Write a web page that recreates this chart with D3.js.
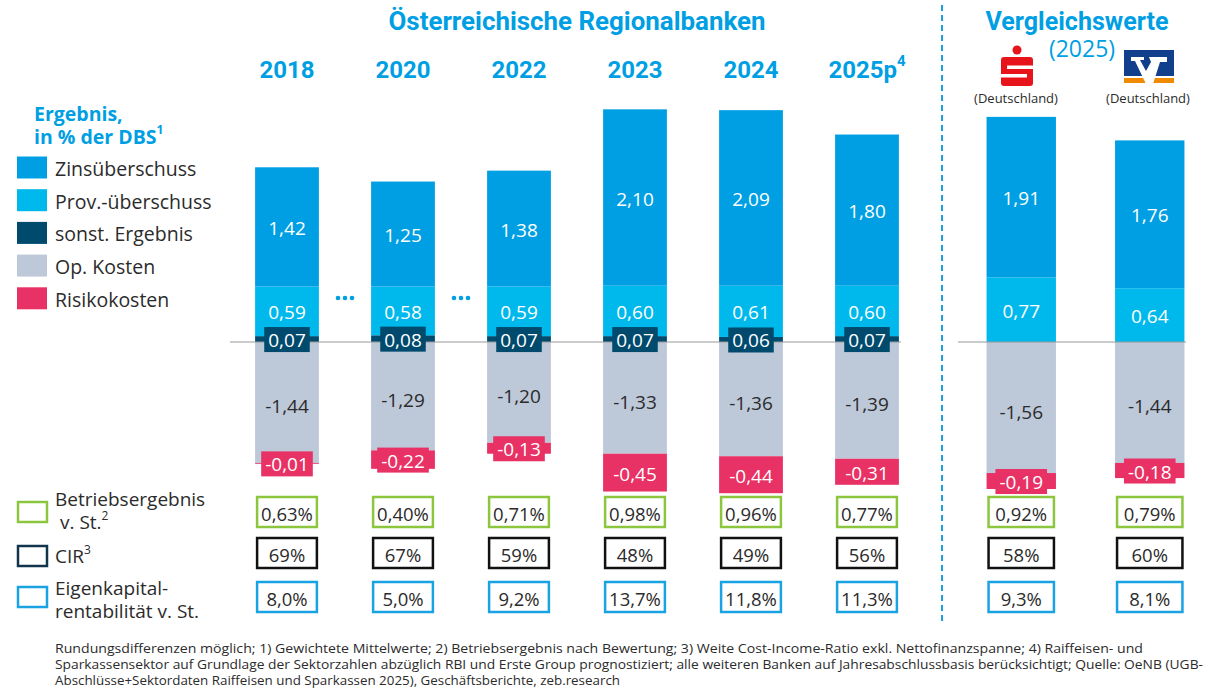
<!DOCTYPE html>
<html>
<head>
<meta charset="utf-8">
<script src="https://cdn.jsdelivr.net/npm/d3@7"></script>
<style>
  body { margin: 0; background: #fff; }
  svg { display: block; }
</style>
</head>
<body>
<script>
// Daten aus der Grafik
const categories = ['2018', '2020', '2022', '2023', '2024', '2025p', 'Sparkasse', 'Volksbank']
const austrian = ['2018', '2020', '2022', '2023', '2024', '2025p']
const peers = ['Sparkasse', 'Volksbank']
const zins = [1.42, 1.25, 1.38, 2.10, 2.09, 1.80, 1.91, 1.76]
const prov = [0.59, 0.58, 0.59, 0.60, 0.61, 0.60, 0.77, 0.64]
const sonst = [0.07, 0.08, 0.07, 0.07, 0.06, 0.07, 0, 0]
const opKosten = [-1.44, -1.29, -1.20, -1.33, -1.36, -1.39, -1.56, -1.44]
const risiko = [-0.01, -0.22, -0.13, -0.45, -0.44, -0.31, -0.19, -0.18]
const betriebsergebnis = ['0,63%', '0,40%', '0,71%', '0,98%', '0,96%', '0,77%', '0,92%', '0,79%']
const cir = ['69%', '67%', '59%', '48%', '49%', '56%', '58%', '60%']
const ekRendite = ['8,0%', '5,0%', '9,2%', '13,7%', '11,8%', '11,3%', '9,3%', '8,1%']

const seriesKeys = ['sonst', 'prov', 'zins', 'opKosten', 'risiko']
const seriesNames = {
  zins: 'Zinsüberschuss', prov: 'Prov.-überschuss', sonst: 'sonst. Ergebnis',
  opKosten: 'Op. Kosten', risiko: 'Risikokosten'
}
const colors = {
  zins: '#009fe3', prov: '#00b9ec', sonst: '#004a6d', opKosten: '#bdc8d8', risiko: '#e83164'
}
const legendOrder = ['zins', 'prov', 'sonst', 'opKosten', 'risiko']

const W = 1208, H = 690
const blue = '#009fe3'
const textCol = '#2b2b2b'
const font = "'Open Sans', 'Noto Sans', sans-serif"
const headFont = "Roboto, 'Noto Sans', sans-serif"

const svg = d3.select('body').append('svg')
  .attr('width', W).attr('height', H)
  .style('font-family', font)

// Skalen
const xA = d3.scaleBand().domain(austrian).range([229, 925]).paddingInner(0.45).paddingOuter(0.225)
const xP = d3.scaleBand().domain(peers).range([957, 1214]).paddingInner(0.46).paddingOuter(0.23)
const xPos = c => austrian.includes(c) ? xA(c) : xP(c)
const bw = c => austrian.includes(c) ? xA.bandwidth() : xP.bandwidth()
const y = d3.scaleLinear().domain([-2, 3]).range([510, 90])

const rows = categories.map((c, i) => ({
  cat: c, zins: zins[i], prov: prov[i], sonst: sonst[i], opKosten: opKosten[i], risiko: risiko[i]
}))
const stacked = d3.stack().keys(seriesKeys).offset(d3.stackOffsetDiverging)(rows)

// Überschriften
svg.append('text').attr('x', 577).attr('y', 21).attr('text-anchor', 'middle')
  .attr('dominant-baseline', 'central').attr('fill', blue)
  .style('font-family', headFont).style('font-weight', 700).style('font-size', '25px')
  .attr('textLength', 377).attr('lengthAdjust', 'spacingAndGlyphs')
  .text('Österreichische Regionalbanken')

const yearText = svg.append('g').selectAll('text').data(austrian).join('text')
  .attr('x', d => xA(d) + xA.bandwidth() / 2).attr('y', 70)
  .attr('text-anchor', 'middle').attr('dominant-baseline', 'central').attr('fill', blue)
  .style('font-family', headFont).style('font-weight', 700).style('font-size', '24px')
yearText.text(d => d)
yearText.filter(d => d === '2025p').append('tspan')
  .attr('dy', -9).style('font-size', '15px').text('4')

svg.append('text').attr('x', 1077).attr('y', 21).attr('text-anchor', 'middle')
  .attr('dominant-baseline', 'central').attr('fill', blue)
  .style('font-family', headFont).style('font-weight', 700).style('font-size', '25px')
  .attr('textLength', 183).attr('lengthAdjust', 'spacingAndGlyphs')
  .text('Vergleichswerte')
svg.append('text').attr('x', 1082).attr('y', 48).attr('text-anchor', 'middle')
  .attr('dominant-baseline', 'central').attr('fill', blue)
  .style('font-size', '23px').text('(2025)')

// Logos
const sp = svg.append('g')
sp.append('circle').attr('cx', 1017).attr('cy', 50).attr('r', 4.5).attr('fill', '#e8141c')
sp.append('rect').attr('x', 1001).attr('y', 57).attr('width', 32).attr('height', 29).attr('rx', 3).attr('fill', '#e8141c')
sp.append('rect').attr('x', 1007).attr('y', 65.5).attr('width', 27).attr('height', 3.5).attr('fill', '#fff')
sp.append('rect').attr('x', 1000).attr('y', 74).attr('width', 27).attr('height', 3.5).attr('fill', '#fff')

const vb = svg.append('g')
vb.append('rect').attr('x', 1124).attr('y', 50).attr('width', 50).attr('height', 26).attr('fill', '#123f8c')
vb.append('rect').attr('x', 1124).attr('y', 78).attr('width', 50).attr('height', 5).attr('fill', '#f08a00')
vb.append('path').attr('fill', '#fff')
  .attr('d', 'M1131,57 L1144,57 L1144,60 L1140,60 L1146,71 L1151,62 L1149,57 L1167,57 L1167,62 L1160,62 L1153,84 L1146,84 L1135,61 L1131,61 Z')

svg.selectAll('.dl').data([1016, 1148]).join('text')
  .attr('x', d => d).attr('y', 98).attr('text-anchor', 'middle').attr('dominant-baseline', 'central')
  .attr('fill', textCol).style('font-size', '13px').text('(Deutschland)')

// Trennlinie
svg.append('line').attr('x1', 942).attr('x2', 942).attr('y1', 5).attr('y2', 622)
  .attr('stroke', '#1a9fe0').attr('stroke-width', 2).attr('stroke-dasharray', '6,4')

// Balken
const barG = svg.append('g')
stacked.forEach(s => {
  barG.append('g').selectAll('rect').data(s).join('rect')
    .attr('x', d => xPos(d.data.cat))
    .attr('width', d => bw(d.data.cat))
    .attr('y', d => y(Math.max(d[0], d[1])))
    .attr('height', d => Math.abs(y(d[0]) - y(d[1])))
    .attr('fill', colors[s.key])
})

// Nulllinie
svg.append('line').attr('x1', 230).attr('x2', 901).attr('y1', y(0)).attr('y2', y(0))
  .attr('stroke', '#999').attr('stroke-width', 1.2)
svg.append('line').attr('x1', 958).attr('x2', 1186).attr('y1', y(0)).attr('y2', y(0))
  .attr('stroke', '#999').attr('stroke-width', 1.2)

// Werte in den Balken
const fmt = v => d3.format('.2f')(v).replace('.', ',').replace('−', '-')
const labelG = svg.append('g')
stacked.forEach(s => {
  s.forEach(d => {
    const v = d.data[s.key]
    if (!v) return
    const cx = xPos(d.data.cat) + bw(d.data.cat) / 2
    const cy = (y(d[0]) + y(d[1])) / 2 + (s.key === 'opKosten' ? 3 : 0)
    const h = Math.abs(y(d[0]) - y(d[1]))
    const t = labelG.append('text').attr('x', cx).attr('y', cy + 1)
      .attr('text-anchor', 'middle').attr('dominant-baseline', 'central')
      .attr('fill', s.key === 'opKosten' ? textCol : '#fff')
      .style('font-size', '19px').text(fmt(v))
    if (h < 24) {
      const tw = t.node().getComputedTextLength()
      labelG.insert('rect', () => t.node())
        .attr('x', cx - tw / 2 - 4).attr('width', tw + 8)
        .attr('y', cy - 12).attr('height', 25)
        .attr('fill', colors[s.key])
    }
  })
})

// "..." zwischen den Jahren
const gapX = [(xA('2018') + xA.bandwidth() + xA('2020')) / 2, (xA('2020') + xA.bandwidth() + xA('2022')) / 2]
gapX.forEach(gx => {
  svg.append('g').selectAll('circle').data([-7, 0, 7]).join('circle')
    .attr('cx', d => gx + d).attr('cy', 298).attr('r', 2.3).attr('fill', blue)
})

// Kennzahlen-Boxen
const kpis = [
  { vals: betriebsergebnis, color: '#8cc63f', cy: 512 },
  { vals: cir, color: '#111', cy: 553 },
  { vals: ekRendite, color: '#1aa3e3', cy: 597 }
]
kpis.forEach(k => {
  const g = svg.append('g')
  g.selectAll('rect').data(categories).join('rect')
    .attr('x', d => xPos(d) + 2).attr('width', d => bw(d) - 4)
    .attr('y', k.cy - 15).attr('height', 30)
    .attr('fill', '#fff').attr('stroke', k.color).attr('stroke-width', 2.5)
  g.selectAll('text').data(categories).join('text')
    .attr('x', d => xPos(d) + bw(d) / 2).attr('y', k.cy + 1)
    .attr('text-anchor', 'middle').attr('dominant-baseline', 'central')
    .attr('fill', textCol).style('font-size', '18.5px')
    .text((d, i) => k.vals[i])
})

// Legende
const lg = svg.append('g')
lg.append('text').attr('x', 34).attr('y', 113).attr('dominant-baseline', 'central')
  .attr('fill', blue).style('font-weight', 700).style('font-size', '19.5px').text('Ergebnis,')
const t2 = lg.append('text').attr('x', 34).attr('y', 136).attr('dominant-baseline', 'central')
  .attr('fill', blue).style('font-weight', 700).style('font-size', '19.5px').text('in % der DBS')
t2.append('tspan').attr('dy', -7).style('font-size', '12px').text('1')

const items = lg.selectAll('.item').data(legendOrder).join('g')
  .attr('transform', (d, i) => `translate(17, ${167.5 + i * 32.7})`)
items.append('rect').attr('x', 0).attr('y', -11).attr('width', 30).attr('height', 22)
  .attr('fill', d => colors[d])
items.append('text').attr('x', 38).attr('y', 1).attr('dominant-baseline', 'central')
  .attr('fill', textCol).style('font-size', '19.5px').text(d => seriesNames[d])

const kLegend = [
  { color: '#8cc63f', cy: 512, lines: [['Betriebsergebnis', 499], ['v. St.', 522, '2', 60]] },
  { color: '#12344d', cy: 556, lines: [['CIR', 556, '3']] },
  { color: '#1aa3e3', cy: 597, lines: [['Eigenkapital-', 588], ['rentabilität v. St.', 611]] }
]
kLegend.forEach(k => {
  lg.append('rect').attr('x', 18).attr('y', k.cy - 10).attr('width', 29).attr('height', 20)
    .attr('fill', 'none').attr('stroke', k.color).attr('stroke-width', 2.5)
  k.lines.forEach(l => {
    const t = lg.append('text').attr('x', l[3] || 55).attr('y', l[1]).attr('dominant-baseline', 'central')
      .attr('fill', textCol).style('font-size', '19px').text(l[0])
    if (l[2]) t.append('tspan').attr('dy', -7).style('font-size', '12px').text(l[2])
  })
})

// Fußnote
const notes = [
  ['Rundungsdifferenzen möglich; 1) Gewichtete Mittelwerte; 2) Betriebsergebnis nach Bewertung; 3) Weite Cost-Income-Ratio exkl. Nettofinanzspanne; 4) Raiffeisen- und', 1088],
  ['Sparkassensektor auf Grundlage der Sektorzahlen abzüglich RBI und Erste Group prognostiziert; alle weiteren Banken auf Jahresabschlussbasis berücksichtigt; Quelle: OeNB (UGB-', 1148],
  ['Abschlüsse+Sektordaten Raiffeisen und Sparkassen 2025), Geschäftsberichte, zeb.research', 565]
]
svg.append('g').selectAll('text').data(notes).join('text')
  .attr('x', 55).attr('y', (d, i) => 648 + i * 16).attr('dominant-baseline', 'central')
  .attr('fill', textCol).style('font-size', '12px')
  .attr('textLength', d => d[1]).attr('lengthAdjust', 'spacingAndGlyphs')
  .text(d => d[0])
</script>
</body>
</html>
